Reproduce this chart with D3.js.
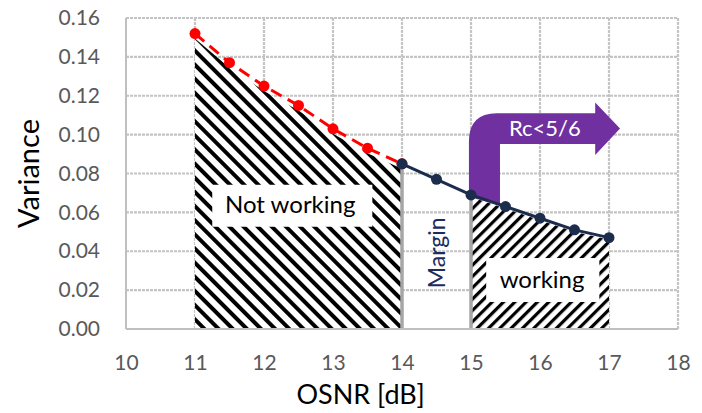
<!DOCTYPE html>
<html><head><meta charset="utf-8">
<script src="https://cdn.jsdelivr.net/npm/d3@7"></script>
<style>body{margin:0;background:#fff}svg{display:block}</style>
</head><body>
<script>
// Data
const osnrRed = [11, 11.5, 12, 12.5, 13, 13.5, 14];
const varRed  = [0.152, 0.137, 0.125, 0.115, 0.103, 0.093, 0.085];
const osnrNavy = [14, 14.5, 15, 15.5, 16, 16.5, 17];
const varNavy  = [0.085, 0.077, 0.069, 0.063, 0.057, 0.051, 0.047];
const xTicks = [10, 11, 12, 13, 14, 15, 16, 17, 18];
const yTicks = [0, 0.02, 0.04, 0.06, 0.08, 0.10, 0.12, 0.14, 0.16];

const W = 702, H = 413;
const m = {l:126, t:18, r:24, b:84};
const svg = d3.select("body").append("svg").attr("width", W).attr("height", H);
const x = d3.scaleLinear().domain([10, 18]).range([m.l, W - m.r]);
const y = d3.scaleLinear().domain([0, 0.16]).range([H - m.b, m.t]);
const FONT = "Lato, 'Open Sans', sans-serif";

const defs = svg.append("defs");
function hatch(id, angle, spacing, thick){
  const p = defs.append("pattern").attr("id", id).attr("patternUnits","userSpaceOnUse")
    .attr("width", spacing).attr("height", spacing)
    .attr("patternTransform", `rotate(${angle})`);
  p.append("rect").attr("width", spacing).attr("height", spacing).attr("fill","#fff");
  p.append("rect").attr("width", thick).attr("height", spacing).attr("fill","#000");
}
hatch("hatchA", -45, 10, 4);
hatch("hatchB", 45, 8, 3.2);

// Grid
const g = svg.append("g");
g.selectAll(".gy").data(yTicks.slice(1)).join("line")
  .attr("x1", m.l).attr("x2", W - m.r).attr("y1", d => y(d)).attr("y2", d => y(d))
  .attr("stroke", "#c4c4c4").attr("stroke-width", 2.2).attr("stroke-dasharray", "3,1");
g.selectAll(".gx").data(xTicks.slice(1)).join("line")
  .attr("x1", d => x(d)).attr("x2", d => x(d)).attr("y1", m.t).attr("y2", H - m.b)
  .attr("stroke", "#c4c4c4").attr("stroke-width", 2.2).attr("stroke-dasharray", "3,1");

// Hatched areas
const redPts = osnrRed.map((d,i)=>[d, varRed[i]]);
const navyPts = osnrNavy.map((d,i)=>[d, varNavy[i]]);
const area = d3.area().x(d => x(d[0])).y0(y(0)).y1(d => y(d[1]) + 5);
svg.append("path").datum(redPts).attr("d", area).attr("fill", "url(#hatchA)");
const area2 = d3.area().x(d => x(d[0])).y0(y(0)).y1(d => y(d[1]) + 2);
svg.append("path").datum(navyPts.filter(d => d[0] >= 15)).attr("d", area2).attr("fill", "url(#hatchB)");

// Vertical markers at 14 and 15
[[14, 0.085], [15, 0.069]].forEach(([xv, yv]) => {
  svg.append("line").attr("x1", x(xv)).attr("x2", x(xv)).attr("y1", y(0)).attr("y2", y(yv))
    .attr("stroke", "#a6a6a6").attr("stroke-width", 3.5);
});

// Axes lines
svg.append("line").attr("x1", m.l).attr("x2", m.l).attr("y1", m.t).attr("y2", H - m.b)
  .attr("stroke", "#bfbfbf").attr("stroke-width", 2);
svg.append("line").attr("x1", m.l).attr("x2", W - m.r).attr("y1", H - m.b).attr("y2", H - m.b)
  .attr("stroke", "#bfbfbf").attr("stroke-width", 2);

// Axes via d3
const yAxis = svg.append("g").attr("transform", `translate(${m.l - 8},0)`)
  .call(d3.axisLeft(y).tickValues(yTicks).tickFormat(d3.format(".2f")).tickSize(0).tickPadding(18));
yAxis.select(".domain").remove();
yAxis.selectAll("text").attr("font-family", FONT).attr("font-size", 21).attr("fill", "#595959");
const xAxis = svg.append("g").attr("transform", `translate(0,${H - m.b})`)
  .call(d3.axisBottom(x).tickValues(xTicks).tickFormat(d3.format("d")).tickSize(0).tickPadding(26));
xAxis.select(".domain").remove();
xAxis.selectAll("text").attr("font-family", FONT).attr("font-size", 21).attr("fill", "#595959");

// Axis titles
svg.append("text").attr("transform", `translate(39,${y(0.08)}) rotate(-90)`)
  .attr("text-anchor", "middle").attr("font-family", FONT).attr("font-size", 29).attr("fill", "#000")
  .text("Variance");
svg.append("text").attr("x", x(13.4)).attr("y", 404)
  .attr("text-anchor", "middle").attr("font-family", FONT).attr("font-size", 27).attr("fill", "#000")
  .text("OSNR [dB]");

// Purple bent arrow
const ax0 = x(14.97), ax1 = x(15.42), bandTop = y(0.111), bandBot = y(0.0952);
const headX = x(16.8), tipX = x(17.16), headTop = y(0.1165), headBot = y(0.0895);
const stemBot0 = y(0.068), stemBot1 = y(0.0635);
const r = 28;
const arrow = d3.path();
arrow.moveTo(ax0, stemBot0);
arrow.lineTo(ax0, bandTop + r);
arrow.quadraticCurveTo(ax0, bandTop, ax0 + r, bandTop);
arrow.lineTo(headX, bandTop);
arrow.lineTo(headX, headTop);
arrow.lineTo(tipX, (bandTop + bandBot) / 2);
arrow.lineTo(headX, headBot);
arrow.lineTo(headX, bandBot);
arrow.lineTo(ax1, bandBot);
arrow.lineTo(ax1, stemBot1);
arrow.closePath();
svg.append("path").attr("d", arrow.toString()).attr("fill", "#7030a0");
svg.append("text").attr("x", x(16.07)).attr("y", y(0.1035) + 8)
  .attr("text-anchor", "middle").attr("font-family", FONT).attr("font-size", 22).attr("fill", "#fff")
  .text("Rc<5/6");

// Lines
const line = d3.line().x(d => x(d[0])).y(d => y(d[1]));
svg.append("path").datum(redPts).attr("d", line).attr("fill", "none")
  .attr("stroke", "#ff0000").attr("stroke-width", 3).attr("stroke-dasharray", "12,7");
svg.selectAll(".rp").data(redPts).join("circle").attr("cx", d => x(d[0])).attr("cy", d => y(d[1]))
  .attr("r", 5.5).attr("fill", "#ff0000");
svg.append("path").datum(navyPts).attr("d", line).attr("fill", "none")
  .attr("stroke", "#1c2c4c").attr("stroke-width", 3);
svg.selectAll(".np").data(navyPts).join("circle").attr("cx", d => x(d[0])).attr("cy", d => y(d[1]))
  .attr("r", 5.5).attr("fill", "#1c2c4c");

// Text boxes
svg.append("rect").attr("x", x(11.25)).attr("y", y(0.0742)).attr("width", x(13.57) - x(11.25))
  .attr("height", y(0.0526) - y(0.0742)).attr("fill", "#fff");
svg.append("text").attr("x", x(12.38)).attr("y", y(0.0597)).attr("text-anchor", "middle")
  .attr("font-family", FONT).attr("font-size", 24).attr("fill", "#000").text("Not working");
svg.append("rect").attr("x", x(15.22)).attr("y", y(0.0365)).attr("width", x(16.86) - x(15.22))
  .attr("height", y(0.0139) - y(0.0365)).attr("fill", "#fff");
svg.append("text").attr("x", x(16.03)).attr("y", y(0.0209)).attr("text-anchor", "middle")
  .attr("font-family", FONT).attr("font-size", 24).attr("fill", "#000").text("working");
svg.append("text").attr("transform", `translate(${x(14.5) + 8},${y(0.0392)}) rotate(-90)`)
  .attr("text-anchor", "middle").attr("font-family", FONT).attr("font-size", 23).attr("fill", "#1c2c5c")
  .text("Margin");
</script>
</body></html>
